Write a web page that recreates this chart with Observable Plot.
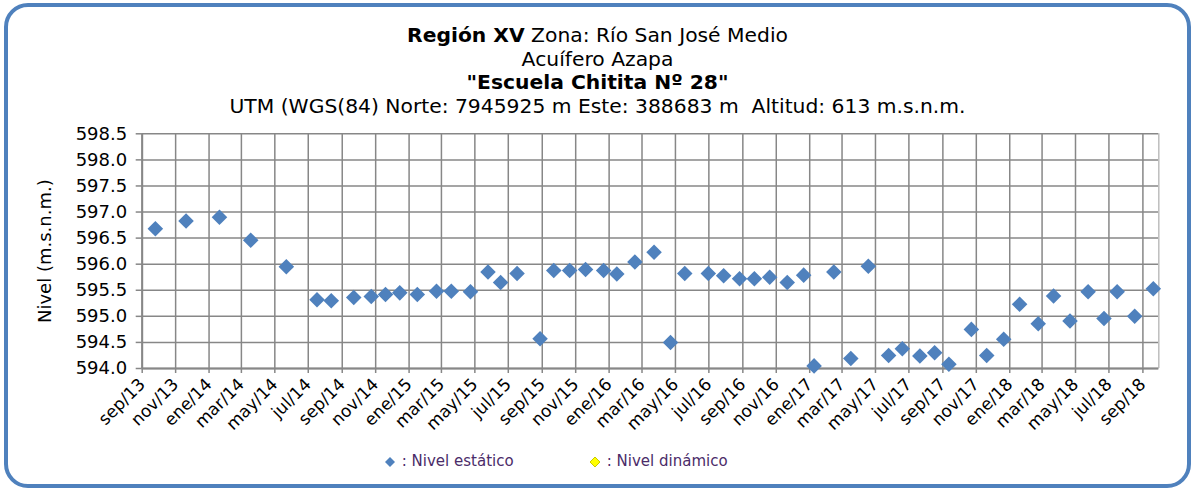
<!DOCTYPE html>
<html>
<head>
<meta charset="utf-8">
<script src="https://cdn.jsdelivr.net/npm/d3@7"></script>
<script src="https://cdn.jsdelivr.net/npm/@observablehq/plot@0.6"></script>
<style>
  html, body { margin: 0; padding: 0; background: #fff; }
  body { width: 1192px; height: 489px; position: relative; overflow: hidden; font-family: "DejaVu Sans", Verdana, sans-serif; }
  #frame { position: absolute; left: 4px; top: 3px; width: 1187px; height: 485px; box-sizing: border-box; border: 4px solid #4f81bd; border-radius: 24px; }
  #title { position: absolute; left: 4px; top: 24px; width: 1187px; text-align: center; font-size: 20.3px; line-height: 23.5px; color: #000; white-space: pre; }
  #chart { position: absolute; left: 0; top: 120px; }
  #legend { position: absolute; left: 0; top: 451px; width: 1192px; height: 20px; font-size: 15px; color: #4b2c69; }
  .item { position: absolute; top: 0; white-space: pre; line-height: 20px; }
  .item svg { vertical-align: middle; }
</style>
</head>
<body>
<div id="frame"></div>
<div id="title"></div>
<div id="chart"></div>
<div id="legend"></div>
<script>
// ---- Data ----
const titleLine1Bold = "Región XV";
const titleLine1Rest = " Zona: Río San José Medio";
const titleLine2 = "Acuífero Azapa";
const titleLine3 = "\"Escuela Chitita Nº 28\"";
const titleLine4 = "UTM (WGS(84) Norte: 7945925 m Este: 388683 m  Altitud: 613 m.s.n.m.";
const yLabel = "Nivel (m.s.n.m.)";
const legendLabels = [": Nivel estático", ": Nivel dinámico"];

const fechas = [
  "2013-09-25","2013-11-20","2014-01-20","2014-03-18","2014-05-22","2014-07-17","2014-08-12","2014-09-22",
  "2014-10-24","2014-11-19","2014-12-15","2015-01-16","2015-02-20","2015-03-19","2015-04-23","2015-05-25",
  "2015-06-17","2015-07-17","2015-08-28","2015-09-22","2015-10-21","2015-11-19","2015-12-22","2016-01-15",
  "2016-02-17","2016-03-23","2016-04-22","2016-05-18","2016-06-30","2016-07-28","2016-08-26","2016-09-22",
  "2016-10-20","2016-11-21","2016-12-21","2017-01-09","2017-02-14","2017-03-17","2017-04-18","2017-05-25",
  "2017-06-19","2017-07-21","2017-08-17","2017-09-12","2017-10-23","2017-11-20","2017-12-21","2018-01-19",
  "2018-02-22","2018-03-22","2018-04-21","2018-05-24","2018-06-22","2018-07-16","2018-08-17","2018-09-20"
];
const nivelEstatico = [
  596.68, 596.83, 596.90, 596.46, 595.95, 595.32, 595.30, 595.36,
  595.38, 595.42, 595.45, 595.42, 595.48, 595.48, 595.47, 595.85,
  595.65, 595.82, 594.57, 595.88, 595.88, 595.90, 595.88, 595.81,
  596.04, 596.23, 594.50, 595.82, 595.82, 595.78, 595.72, 595.72,
  595.75, 595.65, 595.79, 594.05, 595.85, 594.19, 595.96, 594.25,
  594.38, 594.24, 594.30, 594.08, 594.75, 594.25, 594.56, 595.23,
  594.86, 595.39, 594.91, 595.47, 594.96, 595.47, 595.00, 595.53
];
const xTickDates = [
  "2013-09-01","2013-11-01","2014-01-01","2014-03-01","2014-05-01","2014-07-01","2014-09-01","2014-11-01",
  "2015-01-01","2015-03-01","2015-05-01","2015-07-01","2015-09-01","2015-11-01","2016-01-01","2016-03-01",
  "2016-05-01","2016-07-01","2016-09-01","2016-11-01","2017-01-01","2017-03-01","2017-05-01","2017-07-01",
  "2017-09-01","2017-11-01","2018-01-01","2018-03-01","2018-05-01","2018-07-01","2018-09-01"
];
const xTickLabels = [
  "sep/13","nov/13","ene/14","mar/14","may/14","jul/14","sep/14","nov/14",
  "ene/15","mar/15","may/15","jul/15","sep/15","nov/15","ene/16","mar/16",
  "may/16","jul/16","sep/16","nov/16","ene/17","mar/17","may/17","jul/17",
  "sep/17","nov/17","ene/18","mar/18","may/18","jul/18","sep/18"
];
const xDomain = ["2013-09-01", "2018-09-30"];
const yTicks = [594.0, 594.5, 595.0, 595.5, 596.0, 596.5, 597.0, 597.5, 598.0, 598.5];
const yTickLabels = ["594.0","594.5","595.0","595.5","596.0","596.5","597.0","597.5","598.0","598.5"];

// ---- Build ----
const utc = s => new Date(s + "T00:00:00Z");
const data = fechas.map((f, i) => ({fecha: utc(f), nivel: nivelEstatico[i]}));
const ticks = xTickDates.map(utc);
const tickLabelOf = new Map(ticks.map((d, i) => [+d, xTickLabels[i]]));
const yLabelOf = new Map(yTicks.map((v, i) => [v, yTickLabels[i]]));

const title = document.getElementById("title");
title.innerHTML = "";
const l1 = document.createElement("div");
const b = document.createElement("b"); b.textContent = titleLine1Bold;
l1.appendChild(b); l1.appendChild(document.createTextNode(titleLine1Rest));
const l2 = document.createElement("div"); l2.textContent = titleLine2;
const l3 = document.createElement("div"); const b3 = document.createElement("b"); b3.textContent = titleLine3; l3.appendChild(b3);
const l4 = document.createElement("div"); l4.textContent = titleLine4;
[l1, l2, l3, l4].forEach(e => title.appendChild(e));

const gridColor = "#878787";
const chart = Plot.plot({
  width: 1192,
  height: 323,
  marginLeft: 141.7,
  marginRight: 33.7,
  marginTop: 13.3,
  marginBottom: 75,
  style: {fontFamily: "'DejaVu Sans', Verdana, sans-serif", fontSize: "18px", color: "#000", background: "transparent", overflow: "visible"},
  x: {type: "utc", domain: xDomain.map(utc)},
  y: {domain: [594, 598.5]},
  marks: [
    Plot.gridX(ticks, {stroke: gridColor, strokeOpacity: 1, strokeWidth: 1.5}),
    Plot.gridY(yTicks, {stroke: gridColor, strokeOpacity: 1, strokeWidth: 1.5}),
    Plot.ruleX([utc(xDomain[1])], {stroke: "#bdbdbd", strokeWidth: 1.5}),
    Plot.ruleY([594], {stroke: gridColor, strokeWidth: 2}),
    Plot.ruleX([utc(xDomain[0])], {stroke: gridColor, strokeWidth: 2}),
    Plot.axisX({ticks, tickFormat: d => tickLabelOf.get(+d), tickRotate: -45, tickSize: 5, tickPadding: 8, stroke: gridColor, strokeWidth: 1.5, label: null, fontSize: 17}),
    Plot.axisY({ticks: yTicks, tickFormat: v => yLabelOf.get(v), tickSize: 6, tickPadding: 9, stroke: gridColor, strokeWidth: 1.5, label: yLabel, labelAnchor: "center", labelArrow: "none", labelOffset: 104, fontSize: 18}),
    Plot.dot(data, {x: "fecha", y: "nivel", symbol: "diamond2", r: 7, fill: "#4f81bd", stroke: "none"})
  ]
});
document.getElementById("chart").appendChild(chart);

// legend
const legend = document.getElementById("legend");
const items = [
  {left: 383, label: legendLabels[0], fill: "#4f81bd", stroke: "none"},
  {left: 588, label: legendLabels[1], fill: "#ffff00", stroke: "#c8c800"}
];
items.forEach(it => {
  const d = document.createElement("div");
  d.className = "item";
  d.style.left = it.left + "px";
  d.innerHTML = `<svg width="14" height="14" viewBox="-7 -7 14 14"><path d="M0,-5L5,0L0,5L-5,0Z" fill="${it.fill}" stroke="${it.stroke}" stroke-width="1"/></svg>`;
  d.appendChild(document.createTextNode(" " + it.label));
  legend.appendChild(d);
});
</script>
</body>
</html>
